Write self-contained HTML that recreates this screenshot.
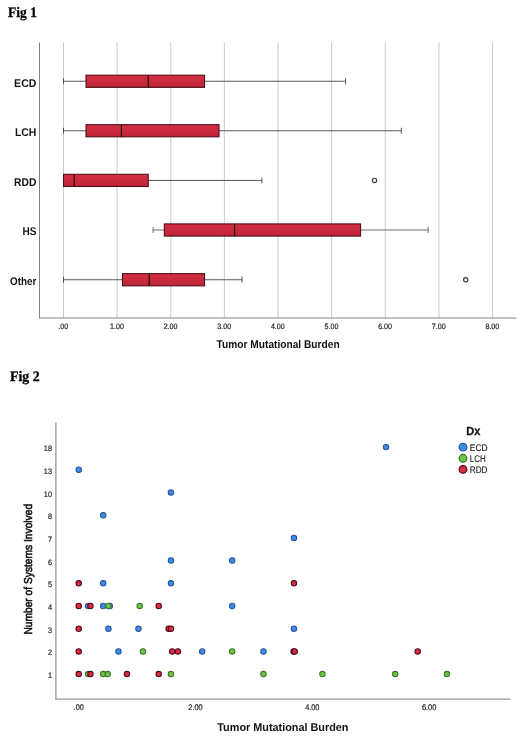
<!DOCTYPE html>
<html lang="en"><head><meta charset="utf-8"><title>Fig 1 / Fig 2</title>
<style>html,body{margin:0;padding:0;background:#fff}svg{display:block;will-change:transform;opacity:.999}text{text-rendering:geometricPrecision}</style></head>
<body>
<svg width="520" height="743" viewBox="0 0 520 743">
<defs><linearGradient id="bx" x1="0" y1="0" x2="0" y2="1"><stop offset="0" stop-color="#d52f45"/><stop offset="1" stop-color="#bd2537"/></linearGradient></defs>
<rect width="520" height="743" fill="#fff"/>
<text x="8.1" y="16.55" textLength="28.8" lengthAdjust="spacingAndGlyphs" font-family="'Liberation Serif',serif" font-weight="bold" font-size="14.6" fill="#000" stroke="#000" stroke-width="0.3">Fig 1</text>
<line x1="63.50" y1="42.5" x2="63.50" y2="318" stroke="#cbcbcb" stroke-width="1"/>
<line x1="117.13" y1="42.5" x2="117.13" y2="318" stroke="#cbcbcb" stroke-width="1"/>
<line x1="170.76" y1="42.5" x2="170.76" y2="318" stroke="#cbcbcb" stroke-width="1"/>
<line x1="224.39" y1="42.5" x2="224.39" y2="318" stroke="#cbcbcb" stroke-width="1"/>
<line x1="278.02" y1="42.5" x2="278.02" y2="318" stroke="#cbcbcb" stroke-width="1"/>
<line x1="331.65" y1="42.5" x2="331.65" y2="318" stroke="#cbcbcb" stroke-width="1"/>
<line x1="385.28" y1="42.5" x2="385.28" y2="318" stroke="#cbcbcb" stroke-width="1"/>
<line x1="438.91" y1="42.5" x2="438.91" y2="318" stroke="#cbcbcb" stroke-width="1"/>
<line x1="492.54" y1="42.5" x2="492.54" y2="318" stroke="#cbcbcb" stroke-width="1"/>
<line x1="39.5" y1="42.5" x2="39.5" y2="318.5" stroke="#858585" stroke-width="1"/>
<line x1="39" y1="318" x2="516.5" y2="318" stroke="#858585" stroke-width="1.05"/>
<text transform="translate(63.30,328.75) scale(0.9,1)" text-anchor="middle" font-family="'Liberation Sans',sans-serif" font-size="7.9" fill="#1e1e1e" stroke="#1e1e1e" stroke-width="0.2">.00</text>
<text transform="translate(116.93,328.75) scale(0.9,1)" text-anchor="middle" font-family="'Liberation Sans',sans-serif" font-size="7.9" fill="#1e1e1e" stroke="#1e1e1e" stroke-width="0.2">1.00</text>
<text transform="translate(170.56,328.75) scale(0.9,1)" text-anchor="middle" font-family="'Liberation Sans',sans-serif" font-size="7.9" fill="#1e1e1e" stroke="#1e1e1e" stroke-width="0.2">2.00</text>
<text transform="translate(224.19,328.75) scale(0.9,1)" text-anchor="middle" font-family="'Liberation Sans',sans-serif" font-size="7.9" fill="#1e1e1e" stroke="#1e1e1e" stroke-width="0.2">3.00</text>
<text transform="translate(277.82,328.75) scale(0.9,1)" text-anchor="middle" font-family="'Liberation Sans',sans-serif" font-size="7.9" fill="#1e1e1e" stroke="#1e1e1e" stroke-width="0.2">4.00</text>
<text transform="translate(331.45,328.75) scale(0.9,1)" text-anchor="middle" font-family="'Liberation Sans',sans-serif" font-size="7.9" fill="#1e1e1e" stroke="#1e1e1e" stroke-width="0.2">5.00</text>
<text transform="translate(385.08,328.75) scale(0.9,1)" text-anchor="middle" font-family="'Liberation Sans',sans-serif" font-size="7.9" fill="#1e1e1e" stroke="#1e1e1e" stroke-width="0.2">6.00</text>
<text transform="translate(438.71,328.75) scale(0.9,1)" text-anchor="middle" font-family="'Liberation Sans',sans-serif" font-size="7.9" fill="#1e1e1e" stroke="#1e1e1e" stroke-width="0.2">7.00</text>
<text transform="translate(492.34,328.75) scale(0.9,1)" text-anchor="middle" font-family="'Liberation Sans',sans-serif" font-size="7.9" fill="#1e1e1e" stroke="#1e1e1e" stroke-width="0.2">8.00</text>
<text x="216.6" y="348.3" textLength="123" lengthAdjust="spacingAndGlyphs" font-family="'Liberation Sans',sans-serif" font-weight="bold" font-size="11.2" fill="#111">Tumor Mutational Burden</text>
<text x="36.4" y="86.60" text-anchor="end" textLength="22.3" lengthAdjust="spacingAndGlyphs" font-family="'Liberation Sans',sans-serif" font-weight="bold" font-size="11.2" fill="#111">ECD</text>
<line x1="63.50" y1="81.25" x2="345.59" y2="81.25" stroke="#3a3a3a" stroke-width="0.85"/>
<line x1="63.50" y1="78.25" x2="63.50" y2="84.25" stroke="#3a3a3a" stroke-width="0.85"/>
<line x1="345.59" y1="78.25" x2="345.59" y2="84.25" stroke="#3a3a3a" stroke-width="0.85"/>
<rect x="86.02" y="75.15" width="118.52" height="12.2" fill="url(#bx)" stroke="#4a0d18" stroke-width="1.05"/>
<line x1="148.24" y1="75.15" x2="148.24" y2="87.35" stroke="#2a0a10" stroke-width="1.3"/>
<text x="36.4" y="136.10" text-anchor="end" textLength="21.5" lengthAdjust="spacingAndGlyphs" font-family="'Liberation Sans',sans-serif" font-weight="bold" font-size="11.2" fill="#111">LCH</text>
<line x1="63.50" y1="130.75" x2="401.37" y2="130.75" stroke="#3a3a3a" stroke-width="0.85"/>
<line x1="63.50" y1="127.75" x2="63.50" y2="133.75" stroke="#3a3a3a" stroke-width="0.85"/>
<line x1="401.37" y1="127.75" x2="401.37" y2="133.75" stroke="#3a3a3a" stroke-width="0.85"/>
<rect x="86.02" y="124.65" width="133.00" height="12.2" fill="url(#bx)" stroke="#4a0d18" stroke-width="1.05"/>
<line x1="121.42" y1="124.65" x2="121.42" y2="136.85" stroke="#2a0a10" stroke-width="1.3"/>
<text x="36.4" y="185.75" text-anchor="end" textLength="22.3" lengthAdjust="spacingAndGlyphs" font-family="'Liberation Sans',sans-serif" font-weight="bold" font-size="11.2" fill="#111">RDD</text>
<line x1="63.50" y1="180.4" x2="261.93" y2="180.4" stroke="#3a3a3a" stroke-width="0.85"/>
<line x1="261.93" y1="177.4" x2="261.93" y2="183.4" stroke="#3a3a3a" stroke-width="0.85"/>
<rect x="63.50" y="174.30" width="84.74" height="12.2" fill="url(#bx)" stroke="#4a0d18" stroke-width="1.05"/>
<line x1="74.23" y1="174.30" x2="74.23" y2="186.50" stroke="#2a0a10" stroke-width="1.3"/>
<circle cx="374.55" cy="180.4" r="2.15" fill="#fff" stroke="#3a3a3a" stroke-width="1.15"/>
<text x="36.4" y="235.35" text-anchor="end" textLength="13.9" lengthAdjust="spacingAndGlyphs" font-family="'Liberation Sans',sans-serif" font-weight="bold" font-size="11.2" fill="#111">HS</text>
<line x1="153.06" y1="230.0" x2="428.18" y2="230.0" stroke="#555" stroke-width="0.85"/>
<line x1="153.06" y1="227.0" x2="153.06" y2="233.0" stroke="#555" stroke-width="0.85"/>
<line x1="428.18" y1="227.0" x2="428.18" y2="233.0" stroke="#555" stroke-width="0.85"/>
<rect x="164.32" y="223.90" width="196.29" height="12.2" fill="url(#bx)" stroke="#4a0d18" stroke-width="1.05"/>
<line x1="234.58" y1="223.90" x2="234.58" y2="236.10" stroke="#2a0a10" stroke-width="1.3"/>
<text x="36.4" y="285.10" text-anchor="end" textLength="26.3" lengthAdjust="spacingAndGlyphs" font-family="'Liberation Sans',sans-serif" font-weight="bold" font-size="11.2" fill="#111">Other</text>
<line x1="63.50" y1="279.75" x2="242.09" y2="279.75" stroke="#3a3a3a" stroke-width="0.85"/>
<line x1="63.50" y1="276.75" x2="63.50" y2="282.75" stroke="#3a3a3a" stroke-width="0.85"/>
<line x1="242.09" y1="276.75" x2="242.09" y2="282.75" stroke="#3a3a3a" stroke-width="0.85"/>
<rect x="122.49" y="273.65" width="82.05" height="12.2" fill="url(#bx)" stroke="#4a0d18" stroke-width="1.05"/>
<line x1="149.31" y1="273.65" x2="149.31" y2="285.85" stroke="#2a0a10" stroke-width="1.3"/>
<circle cx="465.73" cy="279.75" r="2.15" fill="#fff" stroke="#3a3a3a" stroke-width="1.15"/>
<text x="10" y="380.5" textLength="29.7" lengthAdjust="spacingAndGlyphs" font-family="'Liberation Serif',serif" font-weight="bold" font-size="14.6" fill="#000" stroke="#000" stroke-width="0.3">Fig 2</text>
<line x1="55.9" y1="422.5" x2="55.9" y2="699.7" stroke="#9a9a9a" stroke-width="1.35"/>
<line x1="55.3" y1="699.1" x2="510.5" y2="699.1" stroke="#9a9a9a" stroke-width="1.3"/>
<text transform="translate(52,451.20) rotate(0.03) scale(0.93,1)" text-anchor="end" font-family="'Liberation Sans',sans-serif" font-size="7.9" fill="#1e1e1e" stroke="#1e1e1e" stroke-width="0.2">18</text>
<text transform="translate(52,473.90) rotate(0.03) scale(0.93,1)" text-anchor="end" font-family="'Liberation Sans',sans-serif" font-size="7.9" fill="#1e1e1e" stroke="#1e1e1e" stroke-width="0.2">13</text>
<text transform="translate(52,496.60) rotate(0.03) scale(0.93,1)" text-anchor="end" font-family="'Liberation Sans',sans-serif" font-size="7.9" fill="#1e1e1e" stroke="#1e1e1e" stroke-width="0.2">10</text>
<text transform="translate(52,519.30) rotate(0.03) scale(0.93,1)" text-anchor="end" font-family="'Liberation Sans',sans-serif" font-size="7.9" fill="#1e1e1e" stroke="#1e1e1e" stroke-width="0.2">8</text>
<text transform="translate(52,542.00) rotate(0.03) scale(0.93,1)" text-anchor="end" font-family="'Liberation Sans',sans-serif" font-size="7.9" fill="#1e1e1e" stroke="#1e1e1e" stroke-width="0.2">7</text>
<text transform="translate(52,564.70) rotate(0.03) scale(0.93,1)" text-anchor="end" font-family="'Liberation Sans',sans-serif" font-size="7.9" fill="#1e1e1e" stroke="#1e1e1e" stroke-width="0.2">6</text>
<text transform="translate(52,587.40) rotate(0.03) scale(0.93,1)" text-anchor="end" font-family="'Liberation Sans',sans-serif" font-size="7.9" fill="#1e1e1e" stroke="#1e1e1e" stroke-width="0.2">5</text>
<text transform="translate(52,610.10) rotate(0.03) scale(0.93,1)" text-anchor="end" font-family="'Liberation Sans',sans-serif" font-size="7.9" fill="#1e1e1e" stroke="#1e1e1e" stroke-width="0.2">4</text>
<text transform="translate(52,632.80) rotate(0.03) scale(0.93,1)" text-anchor="end" font-family="'Liberation Sans',sans-serif" font-size="7.9" fill="#1e1e1e" stroke="#1e1e1e" stroke-width="0.2">3</text>
<text transform="translate(52,655.50) rotate(0.03) scale(0.93,1)" text-anchor="end" font-family="'Liberation Sans',sans-serif" font-size="7.9" fill="#1e1e1e" stroke="#1e1e1e" stroke-width="0.2">2</text>
<text transform="translate(52,678.20) rotate(0.03) scale(0.93,1)" text-anchor="end" font-family="'Liberation Sans',sans-serif" font-size="7.9" fill="#1e1e1e" stroke="#1e1e1e" stroke-width="0.2">1</text>
<text transform="translate(78.70,710.1) scale(0.91,1)" text-anchor="middle" font-family="'Liberation Sans',sans-serif" font-size="8.1" fill="#1e1e1e" stroke="#1e1e1e" stroke-width="0.2">.00</text>
<text transform="translate(195.50,710.1) scale(0.91,1)" text-anchor="middle" font-family="'Liberation Sans',sans-serif" font-size="8.1" fill="#1e1e1e" stroke="#1e1e1e" stroke-width="0.2">2.00</text>
<text transform="translate(312.30,710.1) scale(0.91,1)" text-anchor="middle" font-family="'Liberation Sans',sans-serif" font-size="8.1" fill="#1e1e1e" stroke="#1e1e1e" stroke-width="0.2">4.00</text>
<text transform="translate(429.10,710.1) scale(0.91,1)" text-anchor="middle" font-family="'Liberation Sans',sans-serif" font-size="8.1" fill="#1e1e1e" stroke="#1e1e1e" stroke-width="0.2">6.00</text>
<text x="217.3" y="730.8" textLength="131.2" lengthAdjust="spacingAndGlyphs" font-family="'Liberation Sans',sans-serif" font-weight="bold" font-size="11.2" fill="#111">Tumor Mutational Burden</text>
<text transform="translate(32.4,634.6) rotate(-90) scale(1,0.95)" textLength="130.7" lengthAdjust="spacingAndGlyphs" font-family="'Liberation Sans',sans-serif" font-size="12" fill="#111" stroke="#111" stroke-width="0.6">Number of Systems Involved</text>
<circle cx="386.00" cy="447.10" r="2.7" fill="#3d8ce6" stroke="#26549a" stroke-width="1.05"/>
<circle cx="78.70" cy="469.80" r="2.7" fill="#3d8ce6" stroke="#26549a" stroke-width="1.05"/>
<circle cx="170.95" cy="492.50" r="2.7" fill="#3d8ce6" stroke="#26549a" stroke-width="1.05"/>
<circle cx="103.20" cy="515.20" r="2.7" fill="#3d8ce6" stroke="#26549a" stroke-width="1.05"/>
<circle cx="293.95" cy="537.90" r="2.7" fill="#3d8ce6" stroke="#26549a" stroke-width="1.05"/>
<circle cx="170.95" cy="560.60" r="2.7" fill="#3d8ce6" stroke="#26549a" stroke-width="1.05"/>
<circle cx="232.20" cy="560.60" r="2.7" fill="#3d8ce6" stroke="#26549a" stroke-width="1.05"/>
<circle cx="78.70" cy="583.30" r="2.7" fill="#dc2a44" stroke="#4a0a18" stroke-width="1.05"/>
<circle cx="103.20" cy="583.30" r="2.7" fill="#3d8ce6" stroke="#26549a" stroke-width="1.05"/>
<circle cx="170.95" cy="583.30" r="2.7" fill="#3d8ce6" stroke="#26549a" stroke-width="1.05"/>
<circle cx="293.95" cy="583.30" r="2.7" fill="#dc2a44" stroke="#4a0a18" stroke-width="1.05"/>
<circle cx="78.70" cy="606.00" r="2.7" fill="#dc2a44" stroke="#4a0a18" stroke-width="1.05"/>
<circle cx="88.20" cy="606.00" r="2.7" fill="#3d8ce6" stroke="#26549a" stroke-width="1.05"/>
<circle cx="90.45" cy="606.00" r="2.7" fill="#dc2a44" stroke="#4a0a18" stroke-width="1.05"/>
<circle cx="103.20" cy="606.00" r="2.7" fill="#3d8ce6" stroke="#26549a" stroke-width="1.05"/>
<circle cx="109.80" cy="606.00" r="2.7" fill="#3d8ce6" stroke="#26549a" stroke-width="1.05"/>
<circle cx="108.45" cy="606.00" r="2.7" fill="#6cc44a" stroke="#397524" stroke-width="1.05"/>
<circle cx="139.70" cy="606.00" r="2.7" fill="#6cc44a" stroke="#397524" stroke-width="1.05"/>
<circle cx="158.70" cy="606.00" r="2.7" fill="#dc2a44" stroke="#4a0a18" stroke-width="1.05"/>
<circle cx="232.20" cy="606.00" r="2.7" fill="#3d8ce6" stroke="#26549a" stroke-width="1.05"/>
<circle cx="78.70" cy="628.70" r="2.7" fill="#dc2a44" stroke="#4a0a18" stroke-width="1.05"/>
<circle cx="108.45" cy="628.70" r="2.7" fill="#3d8ce6" stroke="#26549a" stroke-width="1.05"/>
<circle cx="138.45" cy="628.70" r="2.7" fill="#3d8ce6" stroke="#26549a" stroke-width="1.05"/>
<circle cx="168.70" cy="628.70" r="2.7" fill="#dc2a44" stroke="#4a0a18" stroke-width="1.05"/>
<circle cx="170.95" cy="628.70" r="2.7" fill="#dc2a44" stroke="#4a0a18" stroke-width="1.05"/>
<circle cx="293.95" cy="628.70" r="2.7" fill="#3d8ce6" stroke="#26549a" stroke-width="1.05"/>
<circle cx="78.70" cy="651.40" r="2.7" fill="#dc2a44" stroke="#4a0a18" stroke-width="1.05"/>
<circle cx="118.45" cy="651.40" r="2.7" fill="#3d8ce6" stroke="#26549a" stroke-width="1.05"/>
<circle cx="142.95" cy="651.40" r="2.7" fill="#6cc44a" stroke="#397524" stroke-width="1.05"/>
<circle cx="172.20" cy="651.40" r="2.7" fill="#dc2a44" stroke="#4a0a18" stroke-width="1.05"/>
<circle cx="177.95" cy="651.40" r="2.7" fill="#dc2a44" stroke="#4a0a18" stroke-width="1.05"/>
<circle cx="202.20" cy="651.40" r="2.7" fill="#3d8ce6" stroke="#26549a" stroke-width="1.05"/>
<circle cx="232.20" cy="651.40" r="2.7" fill="#6cc44a" stroke="#397524" stroke-width="1.05"/>
<circle cx="263.45" cy="651.40" r="2.7" fill="#3d8ce6" stroke="#26549a" stroke-width="1.05"/>
<circle cx="293.60" cy="651.40" r="2.7" fill="#dc2a44" stroke="#4a0a18" stroke-width="1.05"/>
<circle cx="294.70" cy="651.40" r="2.7" fill="#dc2a44" stroke="#4a0a18" stroke-width="1.05"/>
<circle cx="417.70" cy="651.40" r="2.7" fill="#dc2a44" stroke="#4a0a18" stroke-width="1.05"/>
<circle cx="78.70" cy="674.10" r="2.7" fill="#dc2a44" stroke="#4a0a18" stroke-width="1.05"/>
<circle cx="88.20" cy="674.10" r="2.7" fill="#6cc44a" stroke="#397524" stroke-width="1.05"/>
<circle cx="90.45" cy="674.10" r="2.7" fill="#dc2a44" stroke="#4a0a18" stroke-width="1.05"/>
<circle cx="103.20" cy="674.10" r="2.7" fill="#6cc44a" stroke="#397524" stroke-width="1.05"/>
<circle cx="107.70" cy="674.10" r="2.7" fill="#6cc44a" stroke="#397524" stroke-width="1.05"/>
<circle cx="126.95" cy="674.10" r="2.7" fill="#dc2a44" stroke="#4a0a18" stroke-width="1.05"/>
<circle cx="158.70" cy="674.10" r="2.7" fill="#dc2a44" stroke="#4a0a18" stroke-width="1.05"/>
<circle cx="170.95" cy="674.10" r="2.7" fill="#6cc44a" stroke="#397524" stroke-width="1.05"/>
<circle cx="263.45" cy="674.10" r="2.7" fill="#6cc44a" stroke="#397524" stroke-width="1.05"/>
<circle cx="322.45" cy="674.10" r="2.7" fill="#6cc44a" stroke="#397524" stroke-width="1.05"/>
<circle cx="395.20" cy="674.10" r="2.7" fill="#6cc44a" stroke="#397524" stroke-width="1.05"/>
<circle cx="446.95" cy="674.10" r="2.7" fill="#6cc44a" stroke="#397524" stroke-width="1.05"/>
<text x="466.3" y="435.3" textLength="14.0" lengthAdjust="spacingAndGlyphs" font-family="'Liberation Sans',sans-serif" font-weight="bold" font-size="11.8" fill="#111" stroke="#111" stroke-width="0.3">Dx</text>
<circle cx="463" cy="447.15" r="3.85" fill="#3d8ce6" stroke="#26549a" stroke-width="1.2"/>
<text x="469.8" y="450.90" textLength="17.7" lengthAdjust="spacingAndGlyphs" font-family="'Liberation Sans',sans-serif" font-size="9.6" fill="#222" stroke="#222" stroke-width="0.15">ECD</text>
<circle cx="463" cy="458.3" r="3.85" fill="#6cc44a" stroke="#397524" stroke-width="1.2"/>
<text x="469.8" y="462.05" textLength="15.8" lengthAdjust="spacingAndGlyphs" font-family="'Liberation Sans',sans-serif" font-size="9.6" fill="#222" stroke="#222" stroke-width="0.15">LCH</text>
<circle cx="463" cy="469.4" r="3.85" fill="#dc2a44" stroke="#4a0a18" stroke-width="1.2"/>
<text x="469.8" y="473.15" textLength="17.7" lengthAdjust="spacingAndGlyphs" font-family="'Liberation Sans',sans-serif" font-size="9.6" fill="#222" stroke="#222" stroke-width="0.15">RDD</text>
</svg>
</body></html>
